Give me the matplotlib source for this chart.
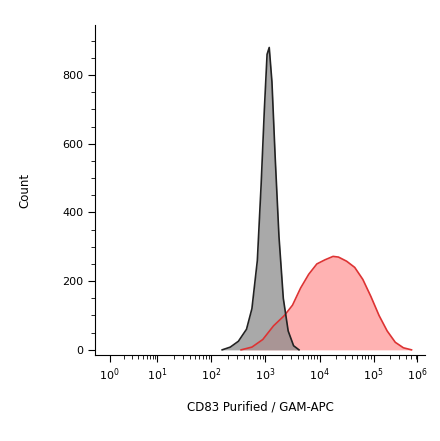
import numpy as np
import matplotlib.pyplot as plt

# x values are in decade display units (logicle-like axis)
gray_x = [2.2, 2.35, 2.5, 2.65, 2.75, 2.85, 2.92, 2.98, 3.03, 3.07, 3.12, 3.18, 3.25, 3.33, 3.42, 3.52, 3.62]
gray_y = [0, 8, 25, 60, 120, 260, 480, 700, 860, 880, 780, 560, 330, 150, 55, 12, 0]

red_x = [2.55, 2.75, 2.95, 3.15, 3.35, 3.5, 3.65, 3.8, 3.95, 4.1, 4.25, 4.35, 4.5, 4.65, 4.8, 4.95, 5.1, 5.25, 5.4, 5.55, 5.7]
red_y = [0, 8, 30, 70, 100, 130, 180, 220, 250, 262, 272, 270, 258, 240, 205, 155, 100, 55, 22, 6, 0]

tick_pos = [0.12, 1, 2, 3, 4, 5, 5.8]
tick_lab = ['$10^{0}$', '$10^{1}$', '$10^{2}$', '$10^{3}$', '$10^{4}$', '$10^{5}$', '$10^{6}$']

fig = plt.figure(figsize=(4.4, 4.41), dpi=100)
ax = fig.add_axes([0.216, 0.195, 0.75, 0.748])

ax.fill_between(red_x, red_y, color='#ff9999', alpha=0.75, lw=0)
ax.plot(red_x, red_y, color='#dd3333', lw=1.2)
ax.fill_between(gray_x, gray_y, color='#8c8c8c', alpha=0.75, lw=0)
ax.plot(gray_x, gray_y, color='#222222', lw=1.2)

ax.set_xlim(-0.15, 5.95)
ax.set_ylim(-15, 945)
ax.set_xticks(tick_pos)
ax.set_xticklabels(tick_lab, fontsize=8)
minor = [d + np.log10(k) for d in range(1, 6) for k in range(2, 10) if d + np.log10(k) < 5.8]
minor += [0.12 + 0.88 * np.log10(k) for k in range(2, 10)]
ax.set_xticks(minor, minor=True)
ax.set_yticks([0, 200, 400, 600, 800])
ax.set_yticks(np.arange(0, 950, 50), minor=True)
ax.tick_params(labelsize=8, length=5)
ax.tick_params(which='minor', length=3)
ax.spines['top'].set_visible(False)
ax.spines['right'].set_visible(False)
ax.set_xlabel('CD83 Purified / GAM-APC', fontsize=8.5, labelpad=12)
ax.set_ylabel('Count', fontsize=8.5, labelpad=22)
fig.savefig('out.png')
